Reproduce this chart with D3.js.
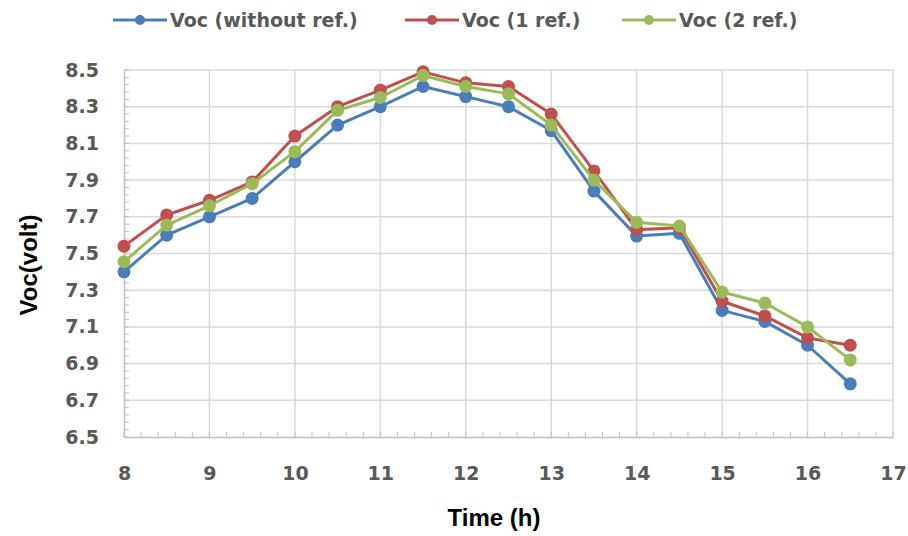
<!DOCTYPE html>
<html>
<head>
<meta charset="utf-8">
<script src="https://cdn.jsdelivr.net/npm/d3@7"></script>
<style>
  body { margin: 0; background: #fff; }
  svg { display: block; }
  text { font-weight: bold; }
</style>
</head>
<body>
<svg id="chart" width="908" height="536"></svg>
<script>
'use strict';
// hours, one reading every half hour
const hours = [8, 8.5, 9, 9.5, 10, 10.5, 11, 11.5, 12, 12.5, 13, 13.5, 14, 14.5, 15, 15.5, 16, 16.5];

// open circuit voltage readings (volt)
const vocNoRef = [7.40, 7.60, 7.70, 7.80, 8.00, 8.20, 8.30, 8.41, 8.355, 8.30, 8.17, 7.84, 7.595, 7.61, 7.19, 7.13, 7.00, 6.79];
const vocOneRef = [7.54, 7.71, 7.79, 7.89, 8.14, 8.30, 8.39, 8.49, 8.43, 8.41, 8.26, 7.95, 7.63, 7.64, 7.24, 7.16, 7.04, 7.00];
const vocTwoRef = [7.455, 7.655, 7.76, 7.88, 8.055, 8.28, 8.35, 8.47, 8.41, 8.37, 8.20, 7.90, 7.67, 7.65, 7.29, 7.23, 7.10, 6.92];

const seriesNames = ["Voc (without ref.)", "Voc (1 ref.)", "Voc (2 ref.)"];
const seriesColors = ["#4a7ebb", "#c0504d", "#9bbb59"];

const xTicks = [8, 9, 10, 11, 12, 13, 14, 15, 16, 17];
const yTicks = [6.5, 6.7, 6.9, 7.1, 7.3, 7.5, 7.7, 7.9, 8.1, 8.3, 8.5];

const tickFont = "'DejaVu Sans', Verdana, sans-serif";
const titleFont = "'Liberation Sans', Arial, sans-serif";

const svg = d3.select("#chart");
const pLeft = 124, pRight = 893, pTop = 70, pBottom = 437;

const x = d3.scaleLinear().domain([8, 17]).range([pLeft, pRight]);
const y = d3.scaleLinear().domain([6.5, 8.5]).range([pBottom, pTop]);

// gridlines
const grid = svg.append("g").attr("stroke", "#d9d9d9").attr("stroke-width", 1.5);
grid.selectAll("line.h").data(yTicks.slice(1)).join("line")
  .attr("x1", pLeft).attr("x2", pRight)
  .attr("y1", d => y(d)).attr("y2", d => y(d));
grid.selectAll("line.v").data(xTicks.slice(1)).join("line")
  .attr("x1", d => x(d)).attr("x2", d => x(d))
  .attr("y1", pTop).attr("y2", pBottom);

// minor ticks pointing inward
const minorX = d3.range(8, 17.001, 0.2);
const minorY = d3.range(6.5, 8.501, 0.04);
const ticks = svg.append("g").attr("stroke", "#bfbfbf").attr("stroke-width", 1);
ticks.selectAll("line.mx").data(minorX).join("line")
  .attr("x1", d => x(d)).attr("x2", d => x(d))
  .attr("y1", pBottom).attr("y2", pBottom - 5);
ticks.selectAll("line.my").data(minorY).join("line")
  .attr("x1", pLeft).attr("x2", pLeft + 5)
  .attr("y1", d => y(d)).attr("y2", d => y(d));

// axes
const xAxis = svg.append("g")
  .attr("transform", `translate(0,${pBottom})`)
  .call(d3.axisBottom(x).tickValues(xTicks).tickSize(0).tickPadding(30).tickFormat(d3.format("d")));
const yAxis = svg.append("g")
  .attr("transform", `translate(${pLeft},0)`)
  .call(d3.axisLeft(y).tickValues(yTicks).tickSize(0).tickPadding(25).tickFormat(d3.format(".1f")));
[xAxis, yAxis].forEach(a => {
  a.select(".domain").attr("stroke", "#bfbfbf").attr("stroke-width", 1.5);
  a.selectAll("text").attr("fill", "#595959").style("font-size", "19px")
    .style("font-family", tickFont).style("font-weight", "bold");
});

// axis titles
svg.append("text").attr("x", 494).attr("y", 526).attr("text-anchor", "middle")
  .attr("fill", "#000").style("font-family", titleFont).style("font-size", "24px").text("Time (h)");
svg.append("text").attr("transform", "translate(37,265) rotate(-90)").attr("text-anchor", "middle")
  .attr("fill", "#000").style("font-family", titleFont).style("font-size", "24px").text("Voc(volt)");

// series
const allSeries = [vocNoRef, vocOneRef, vocTwoRef];
const line = d3.line().x((d, i) => x(hours[i])).y(d => y(d));
allSeries.forEach((vals, k) => {
  const g = svg.append("g");
  g.append("path").datum(vals).attr("d", line)
    .attr("fill", "none").attr("stroke", seriesColors[k]).attr("stroke-width", 3)
    .attr("stroke-linejoin", "round");
  g.selectAll("circle").data(vals).join("circle")
    .attr("cx", (d, i) => x(hours[i])).attr("cy", d => y(d))
    .attr("r", 6.5).attr("fill", seriesColors[k]);
});

// legend
const legendX = [113, 405, 622];
const legend = svg.append("g");
seriesNames.forEach((name, k) => {
  const lg = legend.append("g").attr("transform", `translate(${legendX[k]},20)`);
  lg.append("line").attr("x1", 0).attr("x2", 54).attr("stroke", seriesColors[k]).attr("stroke-width", 3);
  lg.append("circle").attr("cx", 27).attr("r", 5).attr("fill", seriesColors[k]);
  lg.append("text").attr("x", 57).attr("dy", "0.36em").attr("fill", "#595959")
    .style("font-family", tickFont).style("font-size", "19px").text(name);
});
</script>
</body>
</html>
